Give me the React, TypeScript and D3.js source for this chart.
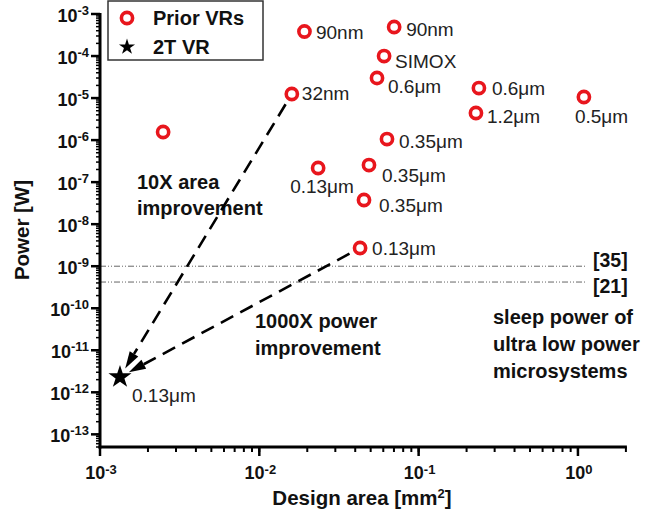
import React from "react";
import * as d3 from "d3";

// ---- data ----
const priorArea = [0.00249, 0.016, 0.0192, 0.0702, 0.0607, 0.0548, 0.239, 0.229, 1.09, 0.0633, 0.0234, 0.0488, 0.0454, 0.0429];
const priorPower = [1.56e-6, 1.25e-5, 3.83e-4, 4.9e-4, 1.0e-4, 3.0e-5, 1.73e-5, 4.41e-6, 1.06e-5, 1.06e-6, 2.17e-7, 2.55e-7, 3.76e-8, 2.71e-9];
const priorLabels = ["", "32nm", "90nm", "90nm", "SIMOX", "0.6\u03bcm", "0.6\u03bcm", "1.2\u03bcm", "0.5\u03bcm", "0.35\u03bcm", "0.13\u03bcm", "0.35\u03bcm", "0.35\u03bcm", "0.13\u03bcm"];

const twoTArea = [0.001335];
const twoTPower = [2.31e-12];
const twoTLabels = ["0.13\u03bcm"];

const refLevels = [1e-9, 4.2e-10];
const refLabels = ["[35]", "[21]"];

const arrowSources = [1, 13]; // indices of prior points the arrows start from

const xTickExps = [-3, -2, -1, 0];
const yTickExps = [-3, -4, -5, -6, -7, -8, -9, -10, -11, -12, -13];

// ---- layout (label placement relative to marker) ----
const labelDx = [0, 10, 11.5, 12, 11, 11, 13, 11, -9, 12, -28, 13, 15, 12];
const labelDy = [0, 6, 7.5, 9, 12, 15, 7, 10, 26, 9, 25, 17, 12, 7];
const twoTLabelDx = [12];
const twoTLabelDy = [25];

const RED = "#e8161d";
const FONT = "Arial, 'Liberation Sans', Helvetica, sans-serif";

export default function App() {
  const x = d3.scaleLog().domain([1e-3, 2]).range([100, 625.9]);
  const y = d3.scaleLog().domain([5e-14, 1e-3]).range([447, 14]);

  const [x0, x1] = x.range();
  const [y0, y1] = y.range();

  const minorX: number[] = [];
  for (let e = -3; e <= 0; e++) for (let k = 1; k <= 9; k++) {
    const v = k * Math.pow(10, e);
    if (v >= 1e-3 && v <= 2.0001) minorX.push(v);
  }
  const minorY: number[] = [];
  for (let e = -14; e <= -3; e++) for (let k = 1; k <= 9; k++) {
    const v = k * Math.pow(10, e);
    if (v >= 4.999e-14 && v <= 1.0001e-3) minorY.push(v);
  }

  const starPath = d3.symbol(d3.symbolStar, 165)();
  const starLegend = d3.symbol(d3.symbolStar, 80)();

  const sx = x(twoTArea[0]);
  const sy = y(twoTPower[0]);

  const arrows = arrowSources.map((i) => {
    const ax = x(priorArea[i]);
    const ay = y(priorPower[i]);
    const dxv = sx - ax, dyv = sy - ay;
    const len = Math.hypot(dxv, dyv);
    const ux = dxv / len, uy = dyv / len;
    const start = [ax + ux * 12, ay + uy * 12];
    const tip = [sx - ux * 10, sy - uy * 10];
    const base = [tip[0] - ux * 17, tip[1] - uy * 17];
    const nx = -uy, ny = ux;
    const head = [
      tip,
      [base[0] + nx * 5, base[1] + ny * 5],
      [base[0] - nx * 5, base[1] - ny * 5],
    ];
    return { start, base, head };
  });

  return (
    <svg width={646} height={517} style={{ position: "absolute", left: 0, top: 0, background: "#fff" }} fontFamily={FONT}>
      <rect x={0} y={0} width={646} height={517} fill="#fff" />

      {/* reference lines */}
      {refLevels.map((v, i) => (
        <g key={"ref" + i}>
          <line x1={x0} x2={587} y1={y(v)} y2={y(v)} stroke="#666" strokeWidth={1} strokeDasharray="6,2,1,2,1,2" />
          <text x={593} y={y(v) + (i === 0 ? 1 : 11)} fontSize={19.5} fontWeight="bold" fill="#111">{refLabels[i]}</text>
        </g>
      ))}

      {/* annotations */}
      <g fontSize={20} fontWeight="bold" fill="#111">
        <text x={137} y={189}>10X area</text>
        <text x={137} y={215}>improvement</text>
        <text x={255} y={328}>1000X power</text>
        <text x={255} y={355}>improvement</text>
        <text x={493} y={324}>sleep power of</text>
        <text x={493} y={351}>ultra low power</text>
        <text x={493} y={378}>microsystems</text>
      </g>

      {/* arrows */}
      {arrows.map((a, i) => (
        <g key={"ar" + i}>
          <line x1={a.start[0]} y1={a.start[1]} x2={a.base[0]} y2={a.base[1]} stroke="#000" strokeWidth={2.6} strokeDasharray="14,8" />
          <polygon points={a.head.map((p) => p.join(",")).join(" ")} fill="#000" />
        </g>
      ))}

      {/* prior VRs */}
      {priorArea.map((a, i) => (
        <g key={"p" + i}>
          <circle cx={x(a)} cy={y(priorPower[i])} r={5.6} fill="none" stroke={RED} strokeWidth={3.6} />
          {priorLabels[i] && (
            <text x={x(a) + labelDx[i]} y={y(priorPower[i]) + labelDy[i]} fontSize={19} fill="#222">{priorLabels[i]}</text>
          )}
        </g>
      ))}

      {/* 2T VR */}
      {twoTArea.map((a, i) => (
        <g key={"s" + i}>
          <path d={starPath as string} transform={`translate(${x(a)},${y(twoTPower[i])})`} fill="#000" />
          <text x={x(a) + twoTLabelDx[i]} y={y(twoTPower[i]) + twoTLabelDy[i]} fontSize={19} fill="#222">{twoTLabels[i]}</text>
        </g>
      ))}

      {/* axes */}
      <g stroke="#000">
        {minorY.map((v, i) => (
          <line key={"my" + i} x1={x0 - 4} x2={x0} y1={y(v)} y2={y(v)} strokeWidth={1.5} />
        ))}
        {yTickExps.map((e) => (
          <line key={"My" + e} x1={x0 - 9} x2={x0} y1={y(Math.pow(10, e))} y2={y(Math.pow(10, e))} strokeWidth={2.5} />
        ))}
        {minorX.map((v, i) => (
          <line key={"mx" + i} x1={x(v)} x2={x(v)} y1={y0} y2={y0 + 5} strokeWidth={2} />
        ))}
        {xTickExps.map((e) => (
          <line key={"Mx" + e} x1={x(Math.pow(10, e))} x2={x(Math.pow(10, e))} y1={y0} y2={y0 + 9} strokeWidth={2.5} />
        ))}
        <line x1={x0} x2={x0} y1={y1 - 1} y2={y0 + 1.5} strokeWidth={3} />
        <line x1={x0 - 1.5} x2={x1 + 1} y1={y0} y2={y0} strokeWidth={3} />
      </g>

      {/* tick labels */}
      <g fontWeight="bold" fill="#111">
        {yTickExps.map((e) => (
          <text key={"ly" + e} x={89} y={y(Math.pow(10, e)) + 8} textAnchor="end" fontSize={18}>
            <tspan>10</tspan>
            <tspan dy={-7} fontSize={13}>{String(e)}</tspan>
          </text>
        ))}
        {xTickExps.map((e) => (
          <text key={"lx" + e} x={x(Math.pow(10, e)) + 1} y={479} textAnchor="middle" fontSize={18}>
            <tspan>10</tspan>
            <tspan dy={-5} fontSize={13}>{String(e)}</tspan>
          </text>
        ))}
      </g>

      {/* axis titles */}
      <text x={362} y={505} textAnchor="middle" fontSize={20.5} fontWeight="bold" fill="#111">
        Design area [mm<tspan dy={-7} fontSize={13}>2</tspan><tspan dy={7}>]</tspan>
      </text>
      <text transform="translate(29,230) rotate(-90)" textAnchor="middle" fontSize={20.5} fontWeight="bold" fill="#111">Power [W]</text>

      {/* legend */}
      <rect x={108} y={1} width={155} height={59} fill="#fff" stroke="#333" strokeWidth={1.5} />
      <circle cx={127} cy={18} r={5.6} fill="none" stroke={RED} strokeWidth={3.6} />
      <text x={153} y={25} fontSize={20} fontWeight="bold" fill="#111">Prior VRs</text>
      <path d={starLegend as string} transform="translate(127,47)" fill="#000" />
      <text x={153} y={54} fontSize={20} fontWeight="bold" fill="#111">2T VR</text>
    </svg>
  );
}
